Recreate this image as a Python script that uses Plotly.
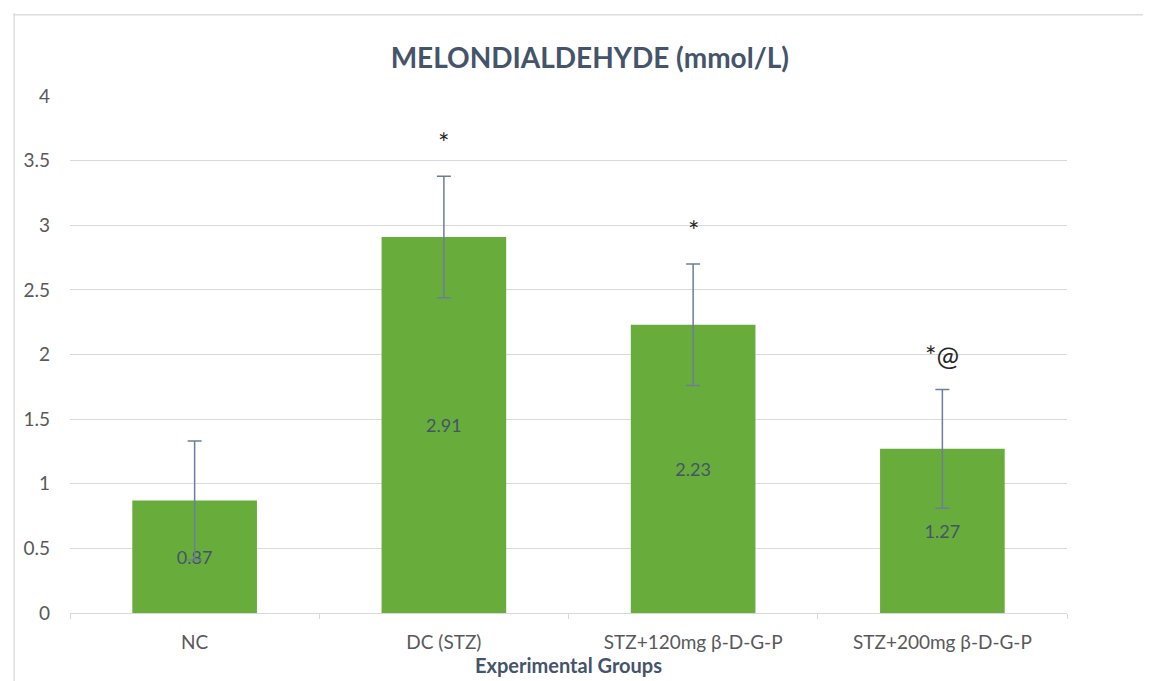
import plotly.graph_objects as go

categories = ["NC", "DC (STZ)", "STZ+120mg β-D-G-P", "STZ+200mg β-D-G-P"]
values = [0.87, 2.91, 2.23, 1.27]
errors = [0.46, 0.47, 0.47, 0.46]
sig_labels = ["", "*", "*", "*@"]
y_ticks = [0, 0.5, 1, 1.5, 2, 2.5, 3, 3.5, 4]
y_tick_text = ["0", "0.5", "1", "1.5", "2", "2.5", "3", "3.5", "4"]

FONT = "Lato"
TXT = "#44546a"

fig = go.Figure()
fig.add_trace(go.Bar(
    x=categories, y=values,
    marker=dict(color="#68ad3b", line=dict(width=0)),
    text=[f"{v:.2f}" for v in values],
    textposition="inside", insidetextanchor="middle",
    textfont=dict(family=FONT, size=18, color=TXT),
    error_y=dict(type="data", array=errors, visible=True,
                 color="#6d7d9a", thickness=1.5, width=7),
    width=0.5,
))

for c, v, e, s in zip(categories, values, errors, sig_labels):
    if s:
        fig.add_annotation(x=c, y=v + e, text=s, showarrow=False,
                           yanchor="middle", yshift=34,
                           font=dict(family=FONT, size=27, color="#262626"))

fig.update_layout(
    width=1143, height=673,
    paper_bgcolor="white", plot_bgcolor="white",
    margin=dict(l=62, r=84, t=88, b=68),
    showlegend=False,
    title=dict(text="<b>MELONDIALDEHYDE (mmol/L)</b>", x=0.509, xanchor="center",
               xref="container",
               y=0.925, yanchor="middle",
               font=dict(family=FONT, size=28, color=TXT)),
    font=dict(family=FONT),
    shapes=[
        dict(type="line", xref="paper", yref="paper", x0=-0.057, x1=1.09,
             y0=1.157, y1=1.157, line=dict(color="#dedede", width=1.5)),
        dict(type="line", xref="paper", yref="paper", x0=-0.056, x1=-0.056,
             y0=1.16, y1=-0.2, line=dict(color="#dedede", width=1.5)),
    ],
)

fig.update_yaxes(
    range=[0, 4], tickvals=y_ticks, ticktext=y_tick_text,
    showgrid=True, gridcolor="#d9d9d9", gridwidth=1,
    zeroline=False, showline=False,
    tickfont=dict(family=FONT, size=19, color="#595959"),
    ticklabelstandoff=19,
)
fig.update_xaxes(
    showline=True, linecolor="#d9d9d9", linewidth=1,
    ticks="outside", tickson="boundaries", ticklen=5, tickcolor="#d9d9d9",
    tickfont=dict(family=FONT, size=19, color="#595959"),
    ticklabelstandoff=12,
    title=dict(text="<b>Experimental Groups</b>", standoff=0,
               font=dict(family=FONT, size=20, color=TXT)),
)

fig.write_html("out.html")
